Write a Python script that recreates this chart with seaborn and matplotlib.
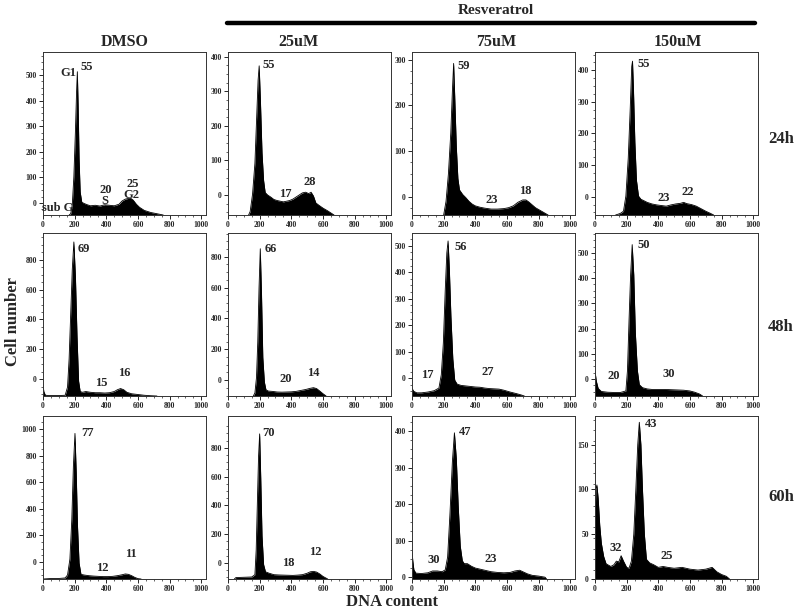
import matplotlib
matplotlib.use("Agg")
import matplotlib.pyplot as plt
import seaborn as sns
import pandas as pd
from matplotlib.ticker import MultipleLocator
from matplotlib.lines import Line2D

sns.set_theme(style="ticks")
plt.rcParams["font.family"] = ["Liberation Serif", "DejaVu Serif"]
plt.rcParams["font.weight"] = "bold"

doses = ["DMSO", "25uM", "75uM", "150uM"]
times = ["24h", "48h", "60h"]

# DNA content (channel) and cell number
dmso_24_x = [165, 175, 185, 195, 205, 212, 217, 222, 228, 235, 245, 260, 280, 300, 330, 360, 390, 420, 450, 480, 500, 520, 540, 555, 570, 590, 610, 640, 680, 720, 760]
dmso_24_y = [0, 5, 40, 150, 330, 480, 560, 430, 220, 90, 50, 45, 40, 36, 38, 35, 40, 38, 36, 42, 55, 62, 65, 65, 58, 42, 30, 18, 10, 5, 0]
r25_24_x = [130, 140, 155, 170, 180, 190, 197, 205, 215, 225, 235, 250, 270, 290, 310, 330, 350, 370, 390, 410, 430, 450, 470, 490, 510, 525, 540, 555, 575, 600, 630, 650, 670]
r25_24_y = [0, 10, 60, 150, 270, 390, 432, 330, 180, 100, 65, 58, 52, 45, 42, 40, 38, 40, 42, 46, 52, 58, 64, 66, 62, 66, 55, 35, 28, 20, 12, 6, 0]
r75_24_x = [200, 215, 230, 245, 255, 263, 270, 280, 290, 300, 320, 340, 360, 380, 400, 430, 460, 500, 540, 580, 610, 640, 670, 700, 720, 740, 760, 780, 800, 820, 840, 860]
r75_24_y = [0, 30, 90, 180, 270, 332, 260, 150, 80, 55, 45, 38, 30, 24, 20, 17, 15, 13, 13, 14, 16, 20, 28, 33, 33, 28, 22, 16, 12, 8, 4, 0]
r150_24_x = [130, 160, 180, 195, 210, 222, 232, 237, 243, 252, 262, 275, 290, 310, 330, 360, 390, 420, 450, 480, 510, 540, 560, 580, 610, 640, 670, 700, 730, 750]
r150_24_y = [0, 5, 12, 60, 180, 330, 470, 487, 400, 230, 110, 60, 50, 45, 40, 35, 32, 30, 28, 32, 35, 37, 40, 36, 33, 28, 20, 12, 5, 0]

dmso_48_x = [0, 5, 15, 40, 100, 140, 155, 165, 175, 185, 195, 205, 215, 225, 235, 250, 270, 300, 330, 360, 390, 420, 450, 470, 490, 510, 530, 560, 600, 640, 680, 720]
dmso_48_y = [80, 30, 5, 3, 3, 5, 60, 250, 550, 850, 1033, 800, 400, 100, 30, 25, 30, 25, 22, 22, 20, 22, 30, 42, 50, 42, 25, 15, 10, 5, 2, 0]
r25_48_x = [160, 170, 180, 188, 196, 204, 212, 220, 230, 240, 255, 280, 310, 340, 370, 400, 430, 460, 490, 520, 540, 560, 580, 600, 620]
r25_48_y = [0, 20, 120, 350, 700, 955, 650, 250, 90, 40, 32, 30, 26, 25, 26, 27, 30, 36, 42, 50, 54, 48, 32, 15, 0]
r75_48_x = [0, 10, 30, 60, 100, 140, 170, 185, 198, 210, 220, 228, 236, 246, 258, 270, 285, 310, 340, 370, 400, 430, 460, 490, 520, 550, 580, 620, 660, 690, 710]
r75_48_y = [30, 18, 12, 12, 15, 20, 30, 80, 200, 400, 540, 585, 480, 300, 140, 60, 45, 40, 38, 36, 34, 33, 30, 28, 27, 26, 22, 15, 9, 4, 0]
r150_48_x = [0, 8, 20, 40, 80, 120, 160, 195, 205, 215, 225, 235, 245, 255, 268, 280, 300, 330, 360, 400, 440, 480, 520, 560, 600, 630, 660, 680]
r150_48_y = [100, 60, 30, 18, 15, 14, 14, 20, 100, 300, 480, 600, 480, 250, 100, 45, 33, 28, 26, 26, 26, 25, 24, 23, 20, 15, 8, 0]

dmso_60_x = [0, 40, 100, 140, 155, 170, 182, 192, 202, 210, 218, 228, 240, 260, 290, 320, 350, 380, 410, 440, 470, 500, 520, 540, 560, 580, 600, 620]
dmso_60_y = [0, 3, 4, 8, 30, 150, 450, 850, 1095, 800, 400, 120, 35, 30, 25, 22, 20, 18, 18, 20, 25, 32, 38, 35, 25, 12, 3, 0]
r25_60_x = [40, 50, 100, 150, 170, 178, 186, 193, 200, 207, 215, 225, 237, 260, 290, 320, 350, 380, 410, 440, 470, 500, 520, 540, 560, 580, 600, 620, 630]
r25_60_y = [0, 10, 12, 14, 30, 200, 550, 850, 1007, 700, 300, 100, 50, 40, 30, 28, 27, 26, 25, 27, 30, 40, 50, 53, 48, 35, 18, 6, 0]
r75_60_x = [0, 5, 12, 25, 60, 100, 130, 160, 190, 210, 225, 240, 255, 268, 280, 292, 305, 318, 330, 350, 375, 400, 430, 460, 500, 540, 580, 620, 650, 680, 700, 730, 760, 800, 840, 850]
r75_60_y = [75, 50, 25, 16, 15, 17, 22, 22, 20, 25, 60, 180, 320, 400, 330, 200, 90, 50, 42, 42, 35, 30, 27, 24, 20, 18, 17, 18, 22, 24, 20, 14, 10, 8, 5, 0]
r150_60_x = [0, 5, 12, 20, 30, 40, 55, 70, 100, 120, 135, 150, 165, 180, 200, 215, 230, 245, 258, 270, 280, 290, 300, 312, 325, 345, 370, 400, 430, 460, 500, 550, 600, 650, 700, 740, 770, 800, 830, 850]
r150_60_y = [60, 100, 105, 90, 60, 40, 25, 17, 14, 16, 20, 19, 26, 20, 13, 12, 20, 50, 100, 150, 175, 150, 100, 50, 22, 18, 16, 13, 14, 13, 12, 13, 11, 10, 11, 13, 8, 5, 3, 0]

hist_x = [[dmso_24_x, r25_24_x, r75_24_x, r150_24_x],
          [dmso_48_x, r25_48_x, r75_48_x, r150_48_x],
          [dmso_60_x, r25_60_x, r75_60_x, r150_60_x]]
hist_y = [[dmso_24_y, r25_24_y, r75_24_y, r150_24_y],
          [dmso_48_y, r25_48_y, r75_48_y, r150_48_y],
          [dmso_60_y, r25_60_y, r75_60_y, r150_60_y]]

# y tick labels are shifted above the baseline on the scanned plots
y_offset = [[47, 58, 40, 58], [113, 103, 67, 67], [128, 111, 5, 0]]
y_top = [[637, 472, 357, 516], [1093, 1057, 615, 646], [1226, 1131, 446, 182]]
y_step = [[100, 100, 100, 100], [200, 200, 100, 100], [200, 200, 100, 50]]
y_max_label = [[500, 400, 300, 400], [800, 800, 500, 500], [1000, 800, 400, 150]]

# percentages written on each panel: (text, x, height)
notes = [
    [[("G1", 162, 553), ("55", 278, 577), ("20", 394, 98), ("S", 388, 55), ("25", 570, 120), ("G2", 559, 79), ("sub G", 95, 29)],
     [("55", 256, 434), ("17", 361, 60), ("28", 516, 97)],
     [("59", 325, 327), ("23", 507, 33), ("18", 714, 53)],
     [("55", 308, 477), ("23", 433, 55), ("22", 586, 74)]],
    [[("69", 261, 989), ("15", 369, 89), ("16", 515, 156)],
     [("66", 271, 955), ("20", 367, 107), ("14", 541, 150)],
     [("56", 308, 564), ("17", 94, 79), ("27", 476, 91)],
     [("50", 305, 600), ("20", 118, 81), ("30", 467, 88)]],
    [[("77", 283, 1095), ("12", 372, 85), ("11", 553, 186)],
     [("70", 258, 1012), ("18", 384, 109), ("12", 553, 190)],
     [("47", 333, 401), ("30", 135, 53), ("23", 496, 56)],
     [("43", 352, 173), ("32", 131, 35), ("25", 453, 26)]],
]

W, H = 800, 614
fig = plt.figure(figsize=(W / 100, H / 100), dpi=100)
col_left = [43, 228, 412, 595]
row_top = [52, 233, 416]
pw, ph = 163, 163

for r in range(3):
    for c in range(4):
        ax = fig.add_axes([col_left[c] / W, 1 - (row_top[r] + ph) / H, pw / W, ph / H])
        df = pd.DataFrame({"dna": hist_x[r][c], "cells": hist_y[r][c]})
        sns.lineplot(data=df, x="dna", y="cells", ax=ax, color="black", lw=0.6)
        ax.fill_between(df["dna"], df["cells"], 0, color="black", lw=0)
        ax.set_xlim(0, 1030)
        ax.set_ylim(0, y_top[r][c])
        ax.set_xlabel("")
        ax.set_ylabel("")
        ax.set_xticks(range(0, 1001, 200))
        ax.xaxis.set_minor_locator(MultipleLocator(50))
        off, step = y_offset[r][c], y_step[r][c]
        labels = list(range(0, y_max_label[r][c] + 1, step))
        ax.set_yticks([off + v for v in labels])
        ax.set_yticklabels([str(v) for v in labels])
        ax.set_yticks([off + v for v in range(-step, y_max_label[r][c] + step, step // 4)
                       if 0 < off + v < y_top[r][c]], minor=True)
        ax.tick_params(axis="both", which="major", labelsize=5.5, length=3, width=0.7, pad=1.5)
        ax.tick_params(axis="both", which="minor", length=1.5, width=0.5)
        for lab in ax.get_xticklabels() + ax.get_yticklabels():
            lab.set_fontweight("bold")
        for s in ax.spines.values():
            s.set_linewidth(0.7)
            s.set_color("#333333")
        for txt, tx, ty in notes[r][c]:
            ax.text(tx, ty, txt, ha="center", va="center", fontsize=9, fontweight="bold")

# column and row headings
col_title_x = [125, 298, 496, 678]
for name, xp in zip(doses, col_title_x):
    fig.text(xp / W, 1 - 42 / H, name, ha="center", va="center", fontsize=11.5, fontweight="bold")
row_label_y = [139, 327, 497]
for name, yp in zip(times, row_label_y):
    fig.text(781 / W, 1 - yp / H, name, ha="center", va="center", fontsize=12, fontweight="bold")

fig.text(496 / W, 1 - 11 / H, "Resveratrol", ha="center", va="center", fontsize=11, fontweight="bold")
fig.add_artist(Line2D([227 / W, 755 / W], [1 - 22.5 / H, 1 - 22.5 / H], color="black", lw=3.2,
                      transform=fig.transFigure))
fig.text(13 / W, 1 - 322 / H, "Cell number", rotation=90, ha="center", va="center", fontsize=12, fontweight="bold")
fig.text(392 / W, 1 - 602 / H, "DNA content", ha="center", va="center", fontsize=12, fontweight="bold")

fig.savefig("out.png", dpi=100)
